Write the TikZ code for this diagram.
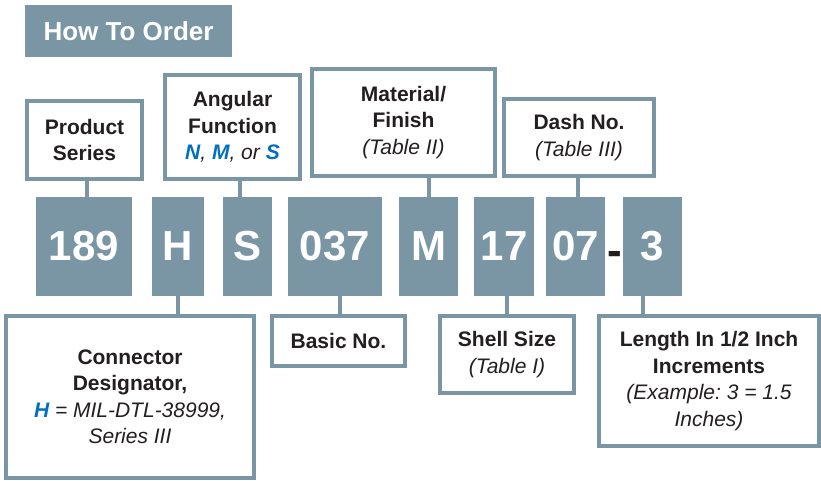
\documentclass[tikz,border=0pt]{standalone}
\usepackage{fontspec}
\setmainfont{Liberation Sans}
\usetikzlibrary{calc}
\definecolor{frame}{RGB}{122,150,164}
\definecolor{hblue}{RGB}{0,112,192}
\definecolor{ink}{RGB}{35,31,32}
\newcommand\itx[1]{{\mdseries\itshape #1}}
\newcommand\bl[1]{{\color{hblue}\itshape\bfseries #1}}
\frenchspacing
\begin{document}
\begin{tikzpicture}[x=1pt,y=-1pt,
  lbl/.style={draw=frame, line width=4pt, fill=white, align=center, inner sep=0pt,
    text=ink, font=\fontsize{21}{26.5}\selectfont\bfseries\frenchspacing},
  code/.style={fill=frame, inner sep=0pt, text=white, minimum height=99pt,
    font=\fontsize{42}{42}\selectfont\bfseries},
  conn/.style={draw=frame, line width=4pt},
  title/.style={fill=frame, inner sep=0pt, text=white,
    font=\fontsize{26}{26}\selectfont\bfseries}
  ]
\useasboundingbox (0,0) rectangle (821,481);
% title
\node[title, minimum width=207pt, minimum height=52pt] (title) at (128.5,31) {How To Order};
% upper labels
\node[lbl, minimum width=115pt, minimum height=78pt] (ps) at (84.5,140) {Product\\Series};
\node[lbl, minimum width=135pt, minimum height=104pt] (af) at (232.5,127)
  {Angular\\Function\\\bl{N}\itx{, }\bl{M}\itx{, or }\bl{S}};
\node[lbl, minimum width=183pt, minimum height=107pt] (mf) at (403.5,122.5)
  {Material/\\Finish\\\itx{(Table II)}};
\node[lbl, minimum width=150pt, minimum height=77pt] (dn) at (579,137.5)
  {Dash No.\\\itx{(Table III)}};
% code boxes
\node[code, minimum width=96pt] (c189) at (84,246.5) {189};
\node[code, minimum width=52pt] (cH) at (178,246.5) {H};
\node[code, minimum width=49pt] (cS) at (247.5,246.5) {S};
\node[code, minimum width=94pt] (c037) at (335,246.5) {037};
\node[code, minimum width=59pt] (cM) at (428.5,246.5) {M};
\node[code, minimum width=60pt] (c17) at (504,246.5) {17};
\node[code, minimum width=59pt] (c07) at (575.5,246.5) {07};
\node[code, minimum width=59pt] (c3) at (652.5,246.5) {3};
\node[inner sep=0pt, text=ink, font=\fontsize{44}{44}\selectfont\bfseries] (dash) at (614.5,258) {-};
% lower labels
\node[lbl, minimum width=248pt, minimum height=162pt] (cd) at (130,397)
  {Connector\\Designator,\\\bl{H}\itx{ = MIL-DTL-38999,}\\\itx{Series III}};
\node[lbl, minimum width=133pt, minimum height=50pt] (bn) at (338.5,341) {Basic No.};
\node[lbl, minimum width=134pt, minimum height=77pt] (ss) at (507,354.5)
  {Shell Size\\\itx{(Table I)}};
\node[lbl, minimum width=220pt, minimum height=130pt] (ln) at (709,381)
  {Length In 1/2 Inch\\Increments\\\itx{(Example: 3 = 1.5}\\\itx{Inches)}};
% connector anchor points
\coordinate (k1) at ($(ps.south)+(2.5,0)$);
\coordinate (k2) at ($(af.south)!0.5!(cS.north)$);
\coordinate (k4) at ($(dn.south)+(-1,0)$);
\coordinate (k6) at ($(bn.north)+(1.5,0)$);
\coordinate (k8) at ($(c3.south)+(-9.5,0)$);
% connectors
\draw[conn] (k1) -- (k1 |- c189.north);
\draw[conn] (k2 |- af.south) -- (k2 |- cS.north);
\draw[conn] (cM.north |- mf.south) -- (cM.north);
\draw[conn] (k4) -- (k4 |- c07.north);
\draw[conn] (cH.south) -- (cH.south |- cd.north);
\draw[conn] (k6 |- c037.south) -- (k6);
\draw[conn] (ss.north |- c17.south) -- (ss.north);
\draw[conn] (k8) -- (k8 |- ln.north);
\end{tikzpicture}
\end{document}
